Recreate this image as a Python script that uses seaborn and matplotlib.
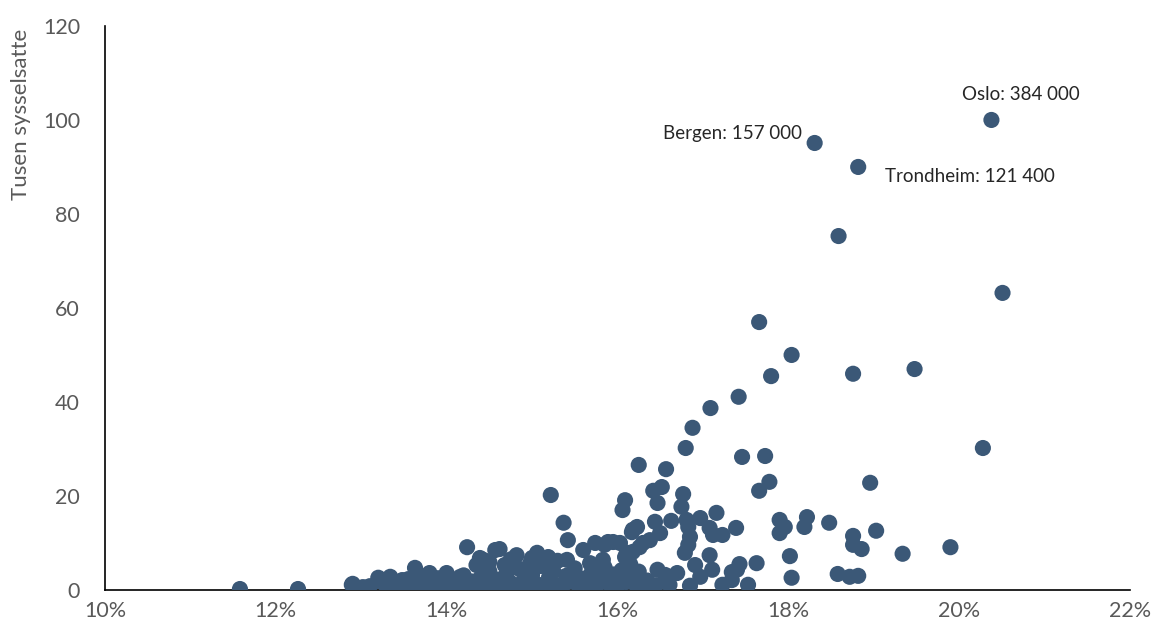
import matplotlib
matplotlib.use("Agg")
import matplotlib.pyplot as plt
from matplotlib.ticker import FuncFormatter
import seaborn as sns
import pandas as pd

# Andel (prosent) og tusen sysselsatte per kommune - lest av figuren
share = [
    20.38, 18.31, 18.82, 18.59, 20.51, 17.66, 18.04, 17.80, 18.76, 19.48,
    17.42, 17.09, 16.88, 16.80, 20.28, 17.46, 17.73, 17.78, 18.96, 17.66,
    16.25, 16.57, 16.42, 16.52, 16.77, 15.22, 16.09, 16.06, 16.47, 16.75,
    17.16, 18.22, 18.19, 17.96, 18.48, 18.76, 18.86, 19.03, 18.76, 19.34,
    19.90, 18.02, 18.04, 18.58, 18.72, 18.82, 17.90, 17.90, 17.39, 16.97,
    16.63, 16.44, 16.23, 16.17, 16.81, 16.83, 17.08, 17.12, 17.23, 16.85,
    16.83, 16.79, 17.08, 17.11, 16.91, 16.97, 16.70, 16.47, 16.56, 16.32,
    16.61, 16.85, 17.23, 17.34, 17.40, 17.43, 17.53, 17.63, 17.34, 16.50,
    16.38, 16.26, 16.18, 16.09, 15.95, 15.85, 15.83, 15.88, 16.11, 15.99,
    16.23, 16.42, 11.58, 12.26, 12.89, 13.02, 13.20, 13.34, 13.63, 14.24,
    14.57, 14.43, 13.48, 13.80, 14.00, 14.16, 14.35, 15.37, 15.42, 14.62,
    14.39, 14.82, 15.06, 15.19, 15.41, 15.60, 15.74, 15.89, 16.03, 16.18,
    16.11, 16.30, 14.68, 14.98, 15.68,
    12.90, 13.00, 13.10, 13.20, 13.30, 13.35, 13.45, 13.50, 13.55, 13.60,
    13.65, 13.70, 13.75, 13.80, 13.85, 13.90, 13.95, 14.00, 14.05, 14.10,
    14.15, 14.20, 14.25, 14.30, 14.35, 14.40, 14.45, 14.50, 14.55, 14.60,
    14.65, 14.70, 14.75, 14.80, 14.85, 14.90, 14.95, 15.00, 15.05, 15.10,
    15.15, 15.20, 15.25, 15.30, 15.35, 15.40, 15.45, 15.50, 15.55, 15.60,
    15.65, 15.70, 15.75, 15.80, 15.85, 15.90, 15.95, 16.00, 16.05, 16.10,
    16.15, 16.20, 16.25, 16.35, 16.45, 14.50, 14.75, 15.00, 15.30,
]
employed = [
    100.0, 95.1, 90.0, 75.3, 63.2, 57.0, 50.0, 45.5, 46.0, 47.0,
    41.1, 38.7, 34.5, 30.2, 30.2, 28.3, 28.5, 23.0, 22.8, 21.1,
    26.6, 25.7, 21.1, 21.9, 20.4, 20.2, 19.1, 17.0, 18.5, 17.7,
    16.4, 15.5, 13.4, 13.4, 14.3, 11.5, 8.7, 12.6, 9.6, 7.7,
    9.1, 7.2, 2.6, 3.4, 2.8, 3.0, 14.9, 12.1, 13.2, 15.3,
    14.7, 14.5, 13.4, 12.3, 14.9, 13.4, 13.2, 11.7, 11.7, 11.3,
    9.6, 7.9, 7.4, 4.3, 5.3, 2.8, 3.6, 4.3, 3.2, 1.5,
    1.1, 0.9, 1.1, 2.1, 4.3, 5.5, 1.1, 5.7, 3.8, 12.1,
    10.6, 9.1, 8.1, 7.0, 10.2, 9.6, 6.4, 2.8, 2.8, 1.1,
    0.6, 0.6, 0.2, 0.2, 1.1, 0.6, 2.6, 2.8, 4.7, 9.1,
    8.5, 6.4, 2.1, 3.6, 3.6, 2.8, 5.3, 14.3, 10.6, 8.7,
    6.8, 7.4, 7.9, 7.0, 6.4, 8.5, 10.0, 10.2, 10.0, 12.8,
    7.9, 10.0, 5.3, 5.7, 5.7,
    1.3, 0.4, 0.8, 1.9, 0.5, 1.5, 0.7, 1.2, 2.3, 0.4,
    1.0, 2.9, 0.6, 1.7, 0.3, 2.5, 1.1, 0.5, 2.0, 1.4,
    0.4, 3.1, 0.9, 1.8, 0.5, 2.6, 1.2, 4.0, 0.7, 2.2,
    0.4, 3.4, 1.5, 0.6, 4.5, 2.0, 0.9, 3.2, 1.3, 5.1,
    0.5, 2.7, 4.0, 1.0, 0.3, 3.0, 1.8, 4.6, 0.8, 2.4,
    1.1, 3.8, 0.6, 2.0, 4.8, 1.4, 3.3, 0.9, 4.2, 1.7,
    5.5, 2.3, 3.9, 2.0, 1.0, 6.0, 6.5, 6.8, 6.2,
]

labels = ["Oslo: 384 000", "Bergen: 157 000", "Trondheim: 121 400"]
label_x = [20.38, 18.31, 18.82]
label_y = [100.0, 95.1, 90.0]

df = pd.DataFrame({"share": share, "employed": employed})

sns.set_style("white")
plt.rcParams["font.family"] = ["Lato", "DejaVu Sans"]

fig = plt.figure(figsize=(11.54, 6.33), dpi=100)
ax = fig.add_axes([0.091, 0.068, 0.888, 0.891])

sns.scatterplot(data=df, x="share", y="employed", ax=ax, color="#3b5877",
                s=135, edgecolor="none", linewidth=0, zorder=3)

ax.set_xlim(10, 22)
ax.set_ylim(0, 120)
ax.set_xticks(range(10, 23, 2))
ax.set_yticks(range(0, 121, 20))
ax.xaxis.set_major_formatter(FuncFormatter(lambda v, p: f"{v:.0f}%"))

ax.set_xlabel("")
ax.set_ylabel("Tusen sysselsatte", fontsize=16, color="#595959", loc="top")
ax.yaxis.set_label_coords(-0.072, 0.995)

for side in ["top", "right"]:
    ax.spines[side].set_visible(False)
for side in ["left", "bottom"]:
    ax.spines[side].set_color("black")
    ax.spines[side].set_linewidth(1.2)

ax.tick_params(axis="y", direction="out", length=4, width=1.2, color="black",
               labelsize=15.5, labelcolor="#595959", pad=14)
ax.tick_params(axis="x", direction="in", length=5, width=1.2, color="black",
               labelsize=15.5, labelcolor="#595959", pad=8)

# Bynavn
ax.annotate(labels[0], (label_x[0], label_y[0]), xytext=(21, 18),
            textcoords="offset points", ha="center", va="center", fontsize=13.5)
ax.annotate(labels[1], (label_x[1], label_y[1]), xytext=(-9, 7),
            textcoords="offset points", ha="right", va="center", fontsize=13.5)
ax.annotate(labels[2], (label_x[2], label_y[2]), xytext=(19, -7),
            textcoords="offset points", ha="left", va="center", fontsize=13.5)

fig.savefig("out.png", dpi=100)
